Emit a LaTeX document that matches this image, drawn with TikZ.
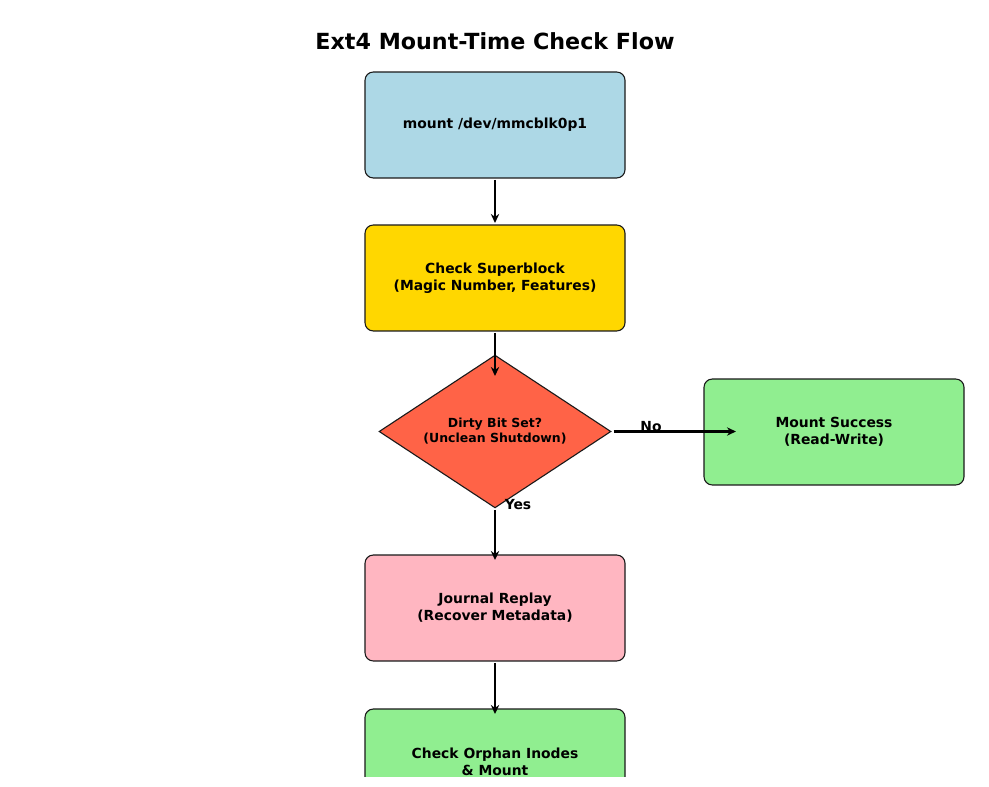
\documentclass[tikz,border=0pt]{standalone}
\usepackage{fontspec}
\setmainfont{DejaVu Sans}
\usetikzlibrary{shapes.geometric,arrows.meta}
\definecolor{clblue}{HTML}{ADD8E6}
\definecolor{cgold}{HTML}{FFD700}
\definecolor{ctomato}{HTML}{FF6347}
\definecolor{cgreen}{HTML}{90EE90}
\definecolor{cpink}{HTML}{FFB6C1}
\definecolor{cedge}{HTML}{1A1A1A}
\tikzset{
  px/.style={x=0.72pt,y=-0.72pt},
  flowbox/.style={draw=cedge, line width=0.8pt, rounded corners=6pt, minimum width=187.2pt, minimum height=76.3pt, inner sep=0pt, align=center, font=\bfseries\fontsize{10}{12.2}\selectfont},
  decision/.style={diamond, draw=cedge, line width=0.8pt, fill=ctomato, shape aspect=1.516, minimum width=167pt, minimum height=110pt, inner sep=0pt, align=center, font=\bfseries\fontsize{9}{10.8}\selectfont},
  flowarrow/.style={line width=1.7pt, -{Stealth[length=6.5pt,width=6pt]}},
  edgelabel/.style={font=\bfseries\fontsize{10}{12}\selectfont}
}
\begin{document}
\begin{tikzpicture}[px]
\useasboundingbox[fill=white] (0,0) rectangle (989,787);
\clip (0,0) rectangle (989,776);
\node[font=\bfseries\fontsize{16}{19}\selectfont] (title) at (495,41) {Ext4 Mount-Time Check Flow};
\node[flowbox, fill=clblue] (mount) at (495,125) {mount /dev/mmcblk0p1};
\node[flowbox, fill=cgold] (super) at (495,278) {Check Superblock\\(Magic Number, Features)};
\node[decision] (dirty) at (495,431.5) {Dirty Bit Set?\\(Unclean Shutdown)};
\node[flowbox, fill=cgreen] (success) at (834,432) {Mount Success\\(Read-Write)};
\node[flowbox, fill=cpink] (replay) at (495,608) {Journal Replay\\(Recover Metadata)};
\node[flowbox, fill=cgreen] (orphan) at (495,762) {Check Orphan Inodes\\\& Mount};
\coordinate (dtop) at (495,376);
\coordinate (nohead) at (736,431.5);
\coordinate (rtop) at (495,560);
\coordinate (otop) at (495,714);
\coordinate (stop) at (495,223);
\draw[flowarrow] ([yshift=-1pt]mount.south) -- (stop);
\draw[flowarrow] ([yshift=-1pt]super.south) -- (dtop);
\draw[flowarrow] ([xshift=1.5pt]dirty.east) -- (nohead);
\draw[flowarrow] ([yshift=-1pt]dirty.south) -- (rtop);
\draw[flowarrow] ([yshift=-1pt]replay.south) -- (otop);
\node[edgelabel] (nolab) at (651,427) {No};
\node[edgelabel] (yeslab) at (518,505) {Yes};
\end{tikzpicture}
\end{document}
